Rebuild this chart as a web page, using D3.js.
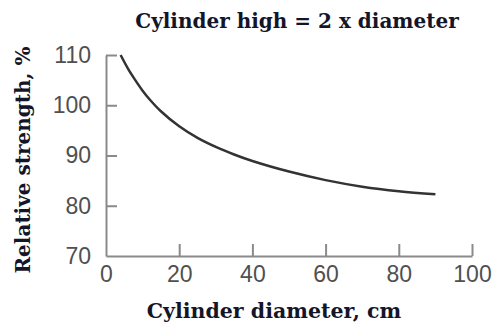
<!DOCTYPE html>
<html>
<head>
<meta charset="utf-8">
<script src="https://cdn.jsdelivr.net/npm/d3@7"></script>
<style>
  body { margin: 0; background: #fff; }
</style>
</head>
<body>
<script>
const WIDTH = 495;
const HEIGHT = 324;

// values
var diameters = [4, 6, 8, 10, 12, 15, 20, 25, 30, 35, 40, 50, 60, 70, 80, 90];
var strengths = [110, 107.3, 105, 102.9, 101.1, 98.8, 95.8, 93.5, 91.7, 90.2, 88.9, 86.8, 85.1, 83.8, 82.9, 82.3];
var xTicks = [0, 20, 40, 60, 80, 100];
var yTicks = [70, 80, 90, 100, 110];

var svg = d3.select("body").append("svg")
    .attr("width", WIDTH)
    .attr("height", HEIGHT);

var x = d3.scaleLinear().domain([0, 100]).range([106, 472]);
var y = d3.scaleLinear().domain([70, 110]).range([256, 55]);

var titleFont = "DejaVu Serif, serif";

// title
svg.append("text")
    .attr("x", 297)
    .attr("y", 28)
    .attr("text-anchor", "middle")
    .attr("font-family", titleFont)
    .attr("font-weight", "bold")
    .attr("font-size", 20)
    .attr("fill", "#15152a")
    .text("Cylinder high = 2 x diameter");

// axes
var yAxis = svg.append("g")
    .attr("transform", "translate(" + x(0) + ",0)")
    .call(d3.axisLeft(y).tickValues(yTicks).tickSize(-11).tickSizeOuter(0).tickPadding(15));

var xAxis = svg.append("g")
    .attr("transform", "translate(0," + y(70) + ")")
    .call(d3.axisBottom(x).tickValues(xTicks).tickSize(-12).tickSizeOuter(0).tickPadding(10));

[xAxis, yAxis].forEach(function (g) {
    g.select(".domain").attr("stroke", "#8a8a8a").attr("stroke-width", 2);
    g.selectAll(".tick line").attr("stroke", "#8a8a8a").attr("stroke-width", 2);
    g.selectAll(".tick text")
        .attr("fill", "#505050")
        .attr("font-family", "Liberation Sans, Arial, sans-serif")
        .attr("font-size", 23);
});
// no tick drawn at the corner
xAxis.selectAll(".tick").filter(function (d) { return d === 0; }).select("line").remove();
yAxis.selectAll(".tick").filter(function (d) { return d === 70; }).select("line").remove();

// curve
var line = d3.line()
    .x(function (d, i) { return x(diameters[i]); })
    .y(function (d) { return y(d); })
    .curve(d3.curveCatmullRom);

svg.append("path")
    .datum(strengths)
    .attr("d", line)
    .attr("fill", "none")
    .attr("stroke", "#333")
    .attr("stroke-width", 2.5);

// axis titles
svg.append("text")
    .attr("x", 274)
    .attr("y", 318)
    .attr("text-anchor", "middle")
    .attr("font-family", titleFont)
    .attr("font-weight", "bold")
    .attr("font-size", 20.5)
    .attr("fill", "#15152a")
    .text("Cylinder diameter, cm");

svg.append("text")
    .attr("transform", "translate(30,160) rotate(-90)")
    .attr("text-anchor", "middle")
    .attr("font-family", titleFont)
    .attr("font-weight", "bold")
    .attr("font-size", 20)
    .attr("fill", "#15152a")
    .text("Relative strength, %");
</script>
</body>
</html>
